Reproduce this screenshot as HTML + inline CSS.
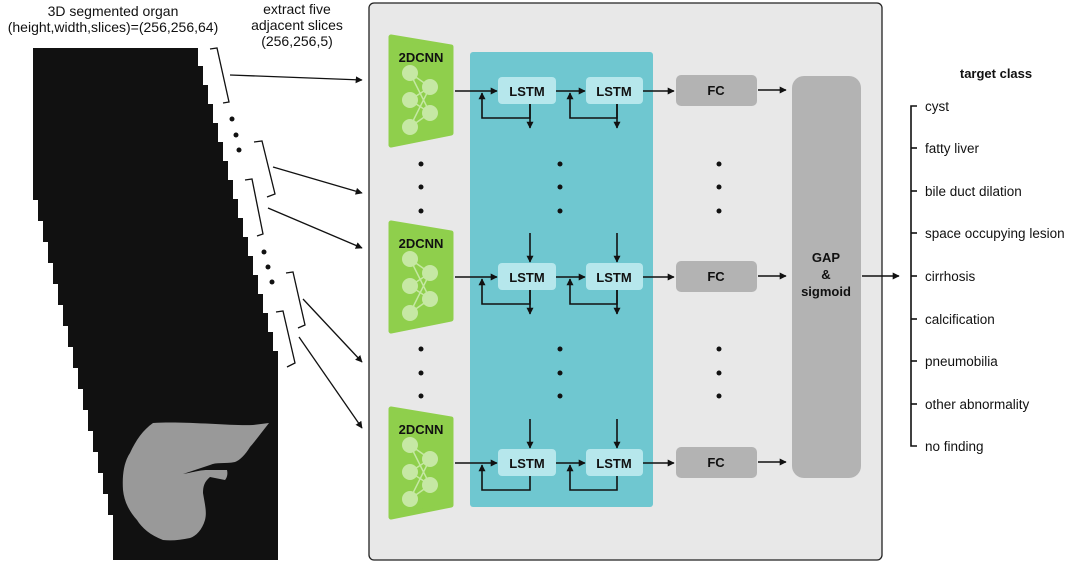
<!DOCTYPE html>
<html><head><meta charset="utf-8"><style>
html,body{margin:0;padding:0;background:#fff;}
svg{display:block;font-family:"Liberation Sans",Arial,sans-serif;}
</style></head><body>
<svg width="1080" height="565" viewBox="0 0 1080 565" xmlns="http://www.w3.org/2000/svg">
<defs>
<marker id="ah" viewBox="0 0 10 10" refX="9" refY="5" markerWidth="7" markerHeight="7" orient="auto-start-reverse" markerUnits="userSpaceOnUse"><path d="M0,0 L10,5 L0,10 z" fill="#111"/></marker>
<g id="cnn">
<path d="M391,-54 L451,-44 L451,42 L391,54 Z" fill="#8fcf4c" stroke="#8fcf4c" stroke-width="5" stroke-linejoin="round"/>
<g stroke="#c6e8a4" stroke-width="1.5"><line x1="410" y1="-18" x2="430" y2="-4"/><line x1="410" y1="-18" x2="430" y2="22"/><line x1="410" y1="9" x2="430" y2="-4"/><line x1="410" y1="9" x2="430" y2="22"/><line x1="410" y1="36" x2="430" y2="22"/><line x1="410" y1="36" x2="430" y2="-4"/></g>
<g fill="#c6e8a4"><circle cx="410" cy="-18" r="8"/><circle cx="410" cy="9" r="8"/><circle cx="410" cy="36" r="8"/><circle cx="430" cy="-4" r="8"/><circle cx="430" cy="22" r="8"/></g>
<text x="421" y="-29" text-anchor="middle" font-size="13" font-weight="bold" fill="#111">2DCNN</text>
</g>
<g id="row">
<g stroke="#111" stroke-width="1.6" fill="none">
<line x1="455" y1="0" x2="497" y2="0" marker-end="url(#ah)"/>
<line x1="556" y1="0" x2="585" y2="0" marker-end="url(#ah)"/>
<line x1="643" y1="0" x2="674" y2="0" marker-end="url(#ah)"/>
<line x1="758" y1="-1" x2="786" y2="-1" marker-end="url(#ah)"/>
<polyline points="530,13 530,27 482,27 482,2" marker-end="url(#ah)"/>
<polyline points="617,13 617,27 570,27 570,2" marker-end="url(#ah)"/>
</g>
<rect x="498" y="-14" width="58" height="27" rx="4" fill="#b6e7ec"/>
<rect x="586" y="-14" width="57" height="27" rx="4" fill="#b6e7ec"/>
<text x="527" y="5" text-anchor="middle" font-size="13" font-weight="bold" fill="#111">LSTM</text>
<text x="614" y="5" text-anchor="middle" font-size="13" font-weight="bold" fill="#111">LSTM</text>
<rect x="676" y="-16" width="81" height="31" rx="5" fill="#b3b3b3"/>
<text x="716" y="4" text-anchor="middle" font-size="13" font-weight="bold" fill="#111">FC</text>
</g>
<g id="down"><g stroke="#111" stroke-width="1.6"><line x1="530" y1="13" x2="530" y2="37" marker-end="url(#ah)"/><line x1="617" y1="13" x2="617" y2="37" marker-end="url(#ah)"/></g></g>
<g id="up"><g stroke="#111" stroke-width="1.6"><line x1="530" y1="-44" x2="530" y2="-15" marker-end="url(#ah)"/><line x1="617" y1="-44" x2="617" y2="-15" marker-end="url(#ah)"/></g></g>
</defs>

<text x="113" y="16" text-anchor="middle" font-size="14" fill="#111">3D segmented organ</text>
<text x="113" y="32" text-anchor="middle" font-size="14" fill="#111">(height,width,slices)=(256,256,64)</text>
<text x="297" y="14" text-anchor="middle" font-size="14" fill="#111">extract five</text>
<text x="297" y="30" text-anchor="middle" font-size="14" fill="#111">adjacent slices</text>
<text x="297" y="46" text-anchor="middle" font-size="14" fill="#111">(256,256,5)</text>

<polygon fill="#111" points="33,48 198,48 198,66 203,66 203,85 208,85 208,104 213,104 213,123 218,123 218,142 223,142 223,161 228,161 228,180 233,180 233,199 238,199 238,218 243,218 243,237 248,237 248,256 253,256 253,275 258,275 258,294 263,294 263,313 268,313 268,332 273,332 273,351 278,351 278,560 113,560 113,515 108,515 108,494 103,494 103,473 98,473 98,452 93,452 93,431 88,431 88,410 83,410 83,389 78,389 78,368 73,368 73,347 68,347 68,326 63,326 63,305 58,305 58,284 53,284 53,263 48,263 48,242 43,242 43,221 38,221 38,200 33,200"/>
<path d="M153,423 C185,421 230,426 253,425 L269,423 C262,432 256,440 250,447 C245,455 240,460 235,462 C225,464 216,462 210,465 L183,474 C195,472 200,470 207,470 L227,470 C228,474 227,478 225,480 L210,477 C204,482 203,487 203,493 C205,505 207,512 205,520 C202,530 196,536 190,538 C180,540 172,541 163,540 C150,535 142,528 137,520 C128,510 124,500 123,490 C122,475 124,462 130,453 C136,440 143,430 153,423 Z" fill="#999"/>

<g stroke="#111" stroke-width="1.3" fill="none">
<polyline points="210,49 217,48 229,102 223,103"/>
<polyline points="254,142 262,141 275,194 267,197"/>
<polyline points="245,180 252,179 263,234 257,236"/>
<polyline points="286,273 293,272 305,325 298,328"/>
<polyline points="276,312 283,311 295,363 287,367"/>
<line x1="230" y1="75" x2="362" y2="80" marker-end="url(#ah)"/>
<line x1="273" y1="167" x2="362" y2="193" marker-end="url(#ah)"/>
<line x1="268" y1="208" x2="362" y2="248" marker-end="url(#ah)"/>
<line x1="303" y1="299" x2="362" y2="362" marker-end="url(#ah)"/>
<line x1="299" y1="337" x2="362" y2="428" marker-end="url(#ah)"/>
</g>
<g fill="#111"><circle cx="232" cy="119" r="2.5"/><circle cx="236" cy="135" r="2.5"/><circle cx="239" cy="150" r="2.5"/><circle cx="264" cy="252" r="2.5"/><circle cx="268" cy="267" r="2.5"/><circle cx="272" cy="282" r="2.5"/></g>

<rect x="369" y="3" width="513" height="557" rx="5" fill="#e8e8e8" stroke="#222" stroke-width="1.3"/>
<rect x="470" y="52" width="183" height="455" rx="3" fill="#6fc7d0"/>
<rect x="792" y="76" width="69" height="402" rx="12" fill="#b3b3b3"/>
<text x="826" y="262" text-anchor="middle" font-size="13" font-weight="bold" fill="#111">GAP</text>
<text x="826" y="279" text-anchor="middle" font-size="13" font-weight="bold" fill="#111">&amp;</text>
<text x="826" y="296" text-anchor="middle" font-size="13" font-weight="bold" fill="#111">sigmoid</text>

<use href="#cnn" transform="translate(0,91)"/>
<use href="#cnn" transform="translate(0,277)"/>
<use href="#cnn" transform="translate(0,463)"/>
<use href="#row" transform="translate(0,91)"/>
<use href="#row" transform="translate(0,277)"/>
<use href="#row" transform="translate(0,463)"/>
<use href="#down" transform="translate(0,91)"/>
<use href="#down" transform="translate(0,277)"/>
<use href="#up" transform="translate(0,277)"/>
<use href="#up" transform="translate(0,463)"/>

<g fill="#111">
<circle cx="421" cy="164" r="2.5"/><circle cx="421" cy="187" r="2.5"/><circle cx="421" cy="211" r="2.5"/>
<circle cx="421" cy="349" r="2.5"/><circle cx="421" cy="373" r="2.5"/><circle cx="421" cy="396" r="2.5"/>
<circle cx="560" cy="164" r="2.5"/><circle cx="560" cy="187" r="2.5"/><circle cx="560" cy="211" r="2.5"/>
<circle cx="560" cy="349" r="2.5"/><circle cx="560" cy="373" r="2.5"/><circle cx="560" cy="396" r="2.5"/>
<circle cx="719" cy="164" r="2.5"/><circle cx="719" cy="187" r="2.5"/><circle cx="719" cy="211" r="2.5"/>
<circle cx="719" cy="349" r="2.5"/><circle cx="719" cy="373" r="2.5"/><circle cx="719" cy="396" r="2.5"/>
</g>

<line x1="862" y1="276" x2="899" y2="276" stroke="#111" stroke-width="1.6" marker-end="url(#ah)"/>
<text x="996" y="78" text-anchor="middle" font-size="13" font-weight="bold" fill="#111">target class</text>
<g stroke="#111" stroke-width="1.6" fill="none">
<polyline points="917,106 911,106 911,446 917,446"/>
<line x1="911" y1="148" x2="917" y2="148"/><line x1="911" y1="191" x2="917" y2="191"/><line x1="911" y1="233" x2="917" y2="233"/><line x1="911" y1="276" x2="917" y2="276"/><line x1="911" y1="319" x2="917" y2="319"/><line x1="911" y1="361" x2="917" y2="361"/><line x1="911" y1="404" x2="917" y2="404"/>
</g>
<g font-size="13.5" fill="#111">
<text x="925" y="111">cyst</text>
<text x="925" y="153">fatty liver</text>
<text x="925" y="196">bile duct dilation</text>
<text x="925" y="238">space occupying lesion</text>
<text x="925" y="281">cirrhosis</text>
<text x="925" y="324">calcification</text>
<text x="925" y="366">pneumobilia</text>
<text x="925" y="409">other abnormality</text>
<text x="925" y="451">no finding</text>
</g>
</svg>
</body></html>
